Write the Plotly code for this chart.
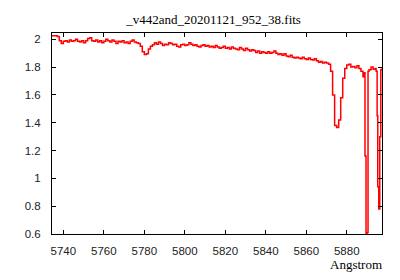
import plotly.graph_objects as go

title_text = "_v442and_20201121_952_38.fits"
x_label = "Angstrom"

wave_main = list(range(5734, 5889))
flux_main = [
    2.025, 2.025, 2.025, 2.02, 1.99, 1.97, 1.985, 1.99, 1.98, 1.995,
    1.985, 1.99, 2.0, 1.985, 1.98, 1.99, 1.975, 1.99, 2.005, 2.01,
    1.99, 1.985, 1.995, 1.98, 1.99, 1.975, 1.985, 2.0, 1.99, 1.98,
    1.995, 1.985, 1.97, 1.985, 1.98, 1.99, 1.975, 1.98, 1.97, 1.985,
    1.995, 1.98, 1.975, 1.97, 1.95, 1.91, 1.89, 1.895, 1.93, 1.95,
    1.96, 1.975, 1.965, 1.98, 1.97, 1.955, 1.965, 1.96, 1.975, 1.97,
    1.96, 1.965, 1.95, 1.945, 1.96, 1.965, 1.955, 1.96, 1.975, 1.965,
    1.955, 1.96, 1.95, 1.945, 1.955, 1.96, 1.95, 1.955, 1.945, 1.95,
    1.94, 1.955, 1.945, 1.935, 1.94, 1.95, 1.935, 1.94, 1.93, 1.945,
    1.935, 1.93, 1.925, 1.94, 1.93, 1.92, 1.935, 1.925, 1.915, 1.925,
    1.92, 1.905, 1.915, 1.9, 1.91, 1.905, 1.9, 1.91, 1.9, 1.905,
    1.915, 1.9, 1.89, 1.895, 1.885, 1.895, 1.88, 1.875, 1.885, 1.87,
    1.865, 1.87, 1.865, 1.86, 1.87, 1.86, 1.855, 1.865, 1.855, 1.85,
    1.86, 1.845, 1.835, 1.84, 1.83, 1.835, 1.83, 1.82, 1.77, 1.6,
    1.38, 1.365, 1.42, 1.58, 1.72, 1.79, 1.815, 1.82, 1.8, 1.805,
    1.795, 1.81, 1.79, 1.77, 1.73,
]

wave_tail = [5888.5, 5889.0, 5889.5, 5890.0, 5890.5, 5891.0, 5892.0, 5893.0,
             5894.0, 5894.5, 5895.0, 5895.3, 5895.8, 5896.3, 5896.8, 5897.5]
flux_tail = [1.76, 1.16, 0.6, 0.61, 1.77, 1.78, 1.8, 1.785,
             1.79, 1.77, 1.45, 0.94, 0.78, 1.3, 1.78, 1.8]

wave = wave_main + wave_tail
flux = flux_main + flux_tail

x_ticks = [5740, 5760, 5780, 5800, 5820, 5840, 5860, 5880]
y_ticks = [0.6, 0.8, 1, 1.2, 1.4, 1.6, 1.8, 2]

fig = go.Figure()
fig.add_trace(go.Scatter(x=wave, y=flux, mode="lines",
                         line=dict(color="#ff0000", width=1.5, shape="hv"),
                         showlegend=False))

tick_font = dict(family="Liberation Sans", size=11.5, color="#222222")
axis_common = dict(showline=True, linecolor="black", linewidth=1, mirror="ticks",
                   ticks="inside", ticklen=4, tickcolor="black", tickwidth=1,
                   showgrid=False, zeroline=False, tickfont=tick_font)

fig.update_layout(
    width=400, height=280,
    margin=dict(l=52, r=18, t=33, b=46),
    paper_bgcolor="white", plot_bgcolor="white",
    title=dict(text=title_text, x=0.534, xanchor="center", y=0.932, yanchor="middle",
               font=dict(family="Liberation Serif", size=13, color="black")),
    xaxis=dict(range=[5734.4, 5897.4], tickvals=x_ticks,
               ticktext=[str(v) for v in x_ticks], ticklabelstandoff=6,
               **axis_common),
    yaxis=dict(range=[0.6, 2.045], tickvals=y_ticks,
               ticktext=[f"{v:g}" for v in y_ticks], ticklabelstandoff=8,
               **axis_common),
    annotations=[dict(text=x_label, xref="paper", yref="paper",
                      x=1.005, y=-0.152, xanchor="right", yanchor="middle",
                      showarrow=False,
                      font=dict(family="Liberation Serif", size=13, color="black"))],
)

fig.write_html("out.html")
